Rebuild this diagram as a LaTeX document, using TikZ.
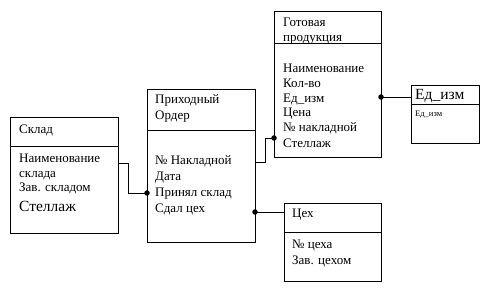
\documentclass[tikz,border=0pt]{standalone}
\usepackage{fontspec}
\setmainfont{Liberation Serif}
\begin{document}
\begin{tikzpicture}[x=1pt,y=-1pt,
  ent/.style={draw=black, line width=0.8pt, fill=white, inner sep=0pt, outer sep=0pt, anchor=north west},
  txt/.style={anchor=base west, inner sep=0pt, font=\fontsize{13}{15}\selectfont},
  big/.style={anchor=base west, inner sep=0pt, font=\fontsize{15.5}{18}\selectfont},
  small/.style={anchor=base west, inner sep=0pt, font=\fontsize{8.5}{10}\selectfont},
  link/.style={draw=black, line width=0.8pt},
  dot/.style={fill=black, circle, inner sep=0pt, minimum size=5.5pt}]
\useasboundingbox[fill=white] (0,0) rectangle (488,299);
% entity boxes
\node[ent, minimum width=108pt, minimum height=116pt] (skl) at (10,117) {};
\node[ent, minimum width=108pt, minimum height=153pt] (prih) at (147,89) {};
\node[ent, minimum width=107pt, minimum height=146pt] (got) at (274,11) {};
\node[ent, minimum width=68pt, minimum height=58pt] (ed) at (411,85) {};
\node[ent, minimum width=97pt, minimum height=78pt] (cex) at (284,203) {};
% dividers
\draw[link] (skl.west |- 0,146) -- (skl.east |- 0,146);
\draw[link] (prih.west |- 0,130) -- (prih.east |- 0,130);
\draw[link] (got.west |- 0,43) -- (got.east |- 0,43);
\draw[link] (ed.west |- 0,104) -- (ed.east |- 0,104);
\draw[link] (cex.west |- 0,232) -- (cex.east |- 0,232);
% Склад
\node[txt] (t1) at (19,134) {Склад};
\node[txt] (t2) at (19,163) {Наименование};
\node[txt] (t3) at (19,178) {склада};
\node[txt] (t4) at (19,192) {Зав. складом};
\node[big] (t5) at (19,212) {Стеллаж};
% Приходный Ордер
\node[txt] (p1) at (155,104) {Приходный};
\node[txt] (p2) at (155,120) {Ордер};
\node[txt] (p3) at (155,165) {№ Накладной};
\node[txt] (p4) at (155,181) {Дата};
\node[txt] (p5) at (155,197) {Принял склад};
\node[txt] (p6) at (155,213) {Сдал цех};
% Готовая продукция
\node[txt] (g1) at (283,27) {Готовая};
\node[txt] (g2) at (283,42) {продукция};
\node[txt] (g3) at (283,73) {Наименование};
\node[txt] (g4) at (283,88) {Кол-во};
\node[txt] (g5) at (283,103) {Ед\_изм};
\node[txt] (g6) at (283,117) {Цена};
\node[txt] (g7) at (283,132) {№ накладной};
\node[txt] (g8) at (283,148) {Стеллаж};
% Ед_изм
\node[big] (e1) at (415,100) {Ед\_изм};
\node[small] (e2) at (415,117) {Ед\_изм};
% Цех
\node[txt] (c1) at (292,218) {Цех};
\node[txt] (c2) at (292,249) {№ цеха};
\node[txt] (c3) at (292,265) {Зав. цехом};
% connector points
\coordinate (a0) at (skl.east |- 0,163);
\coordinate (a1) at (128,163);
\coordinate (a2) at (128,193);
\coordinate (a3) at (prih.west |- 0,193);
\coordinate (b0) at (prih.east |- 0,162);
\coordinate (b1) at (265,162);
\coordinate (b2) at (265,138);
\coordinate (b3) at (got.west |- 0,138);
\coordinate (c0) at (prih.east |- 0,212);
\coordinate (cc) at (cex.west |- 0,212);
\coordinate (d0) at (got.east |- 0,97);
\coordinate (d1) at (ed.west |- 0,97);
\draw[link] (a0) -- (a1) -- (a2) -- (a3);
\draw[link] (b0) -- (b1) -- (b2) -- (b3);
\draw[link] (c0) -- (cc);
\draw[link] (d0) -- (d1);
\node[dot] (da) at (a3) {};
\node[dot] (db) at (b3) {};
\node[dot] (dc) at (c0) {};
\node[dot] (dd) at (d0) {};
\end{tikzpicture}
\end{document}
